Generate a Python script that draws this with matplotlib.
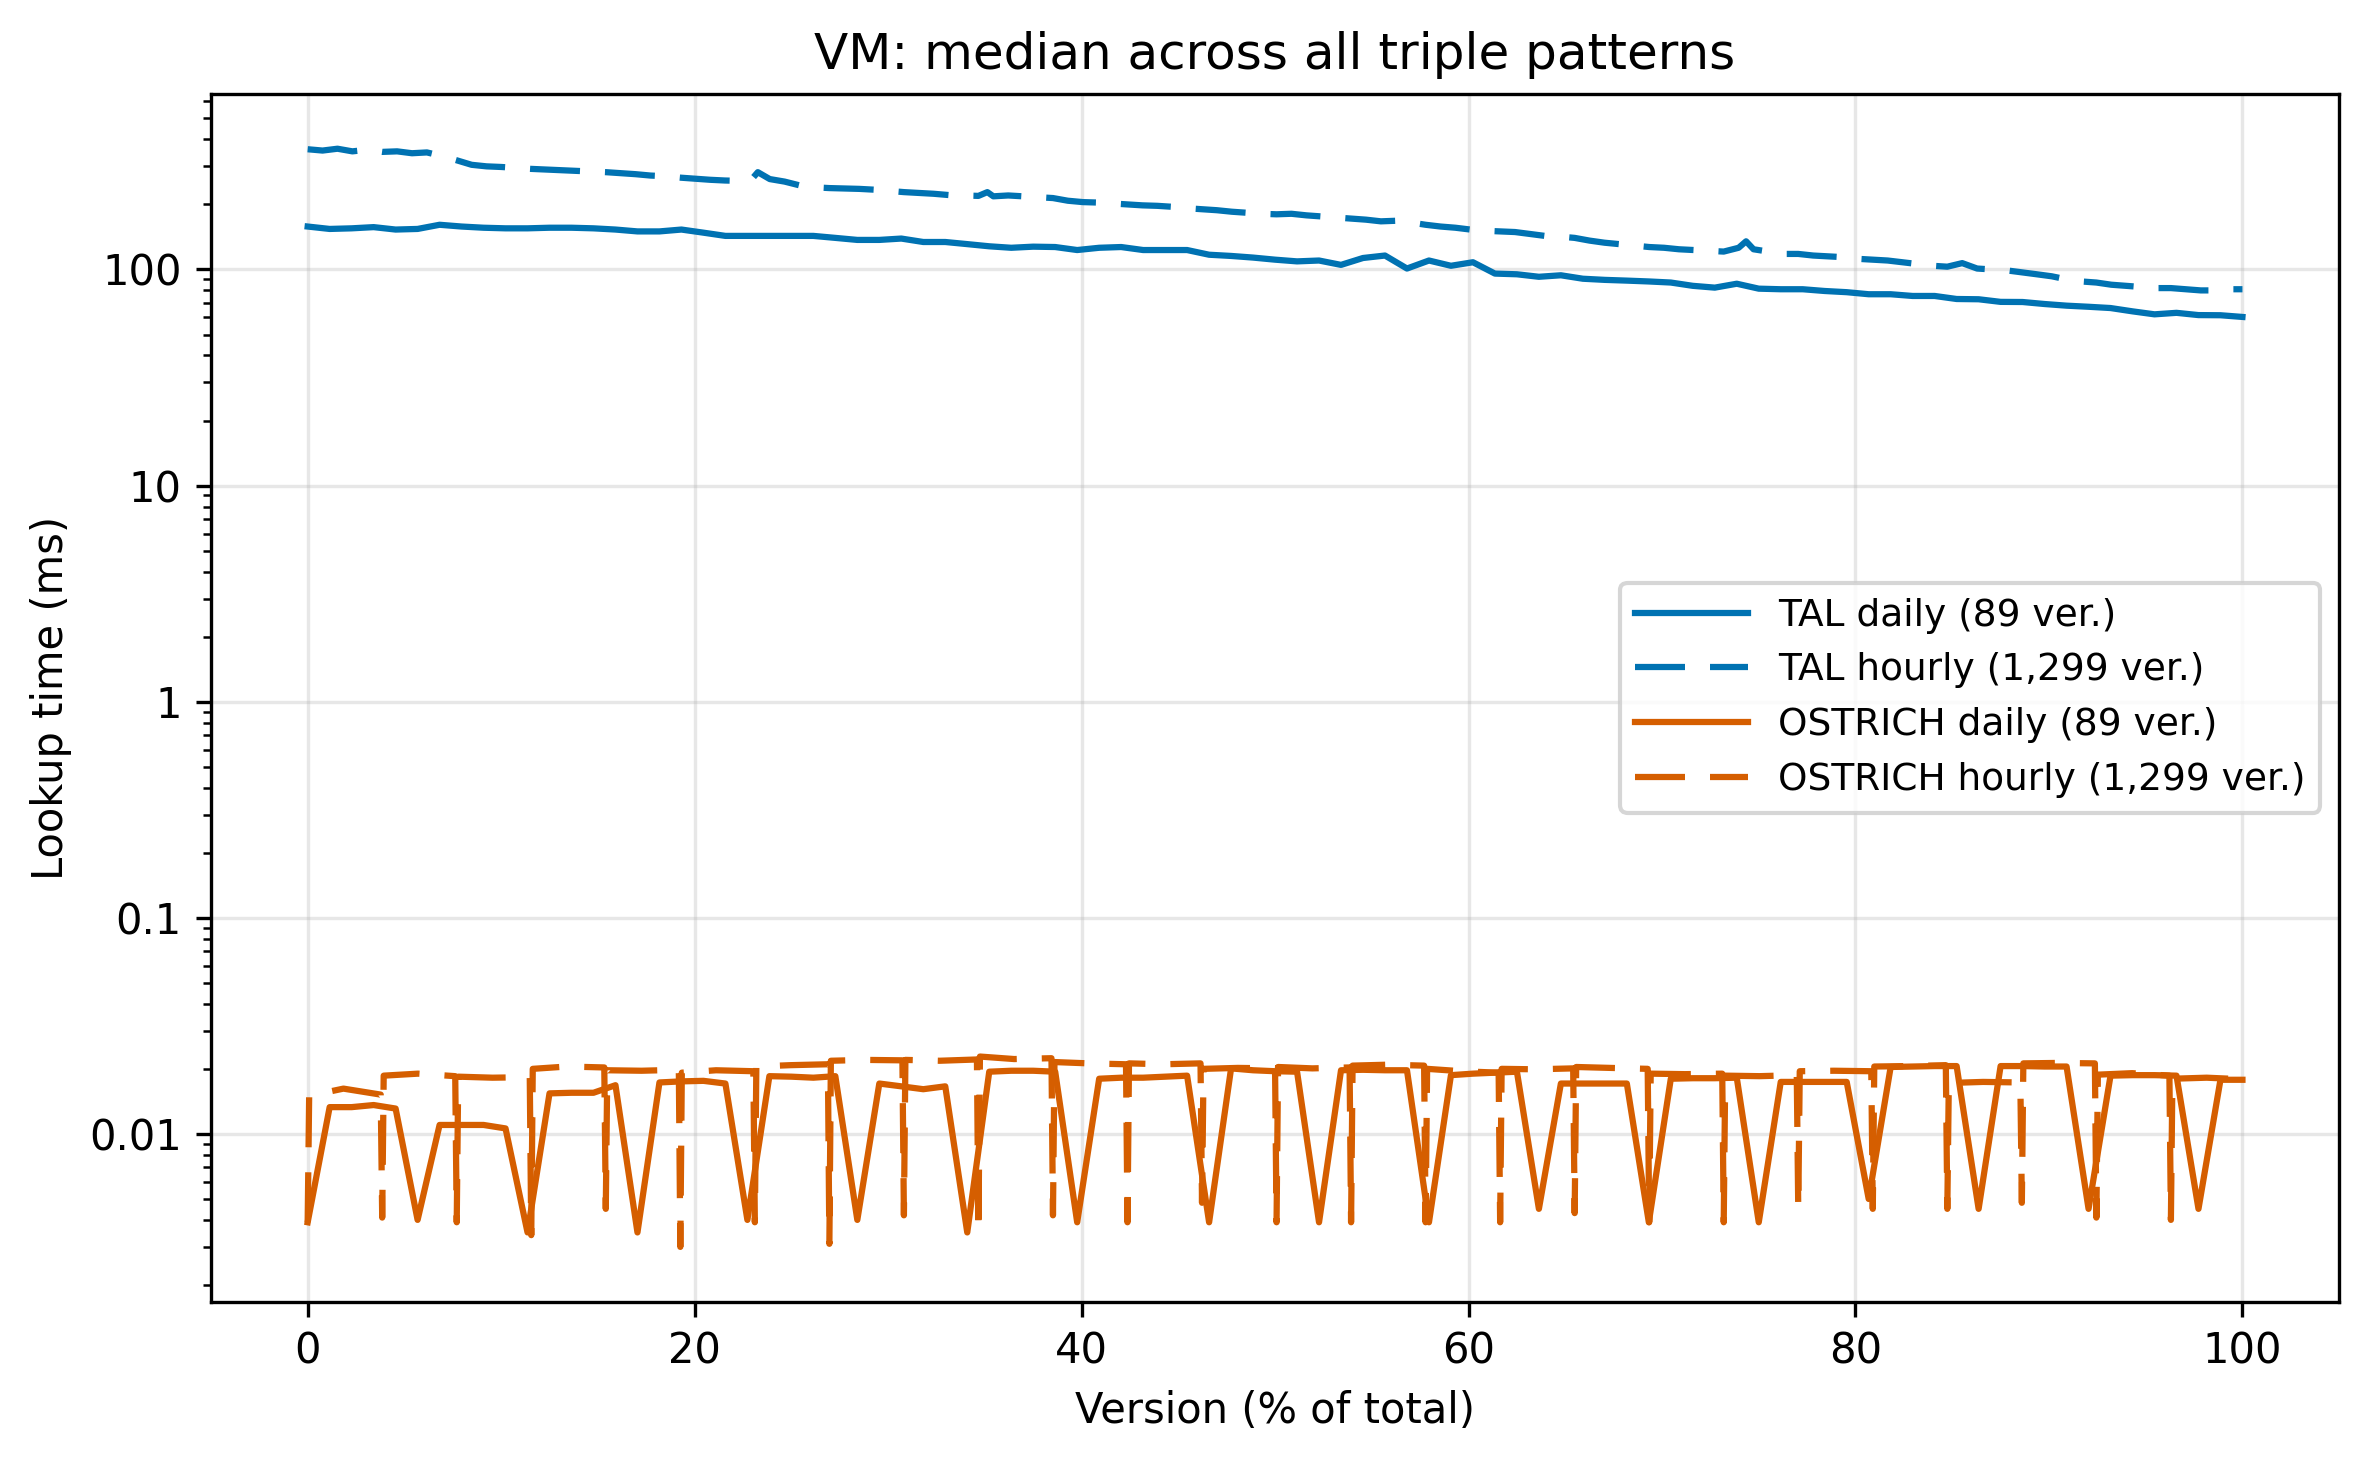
import matplotlib
matplotlib.use('Agg')
import matplotlib.pyplot as plt
from matplotlib.ticker import FuncFormatter, LogLocator

# colours (Okabe-Ito blue / vermillion)
tal_color = '#0072B2'
ostrich_color = '#D55E00'

# daily runs: 89 versions spread over 0..100 %
n_daily = 89
tal_daily_ms = [158, 154, 155, 157, 153, 154, 161, 158, 156, 155,
                155, 156, 156, 155, 153, 150, 150, 153, 148, 143,
                143, 143, 143, 143, 140, 137, 137, 139, 134, 134,
                131, 128, 126, 127.5, 127, 123, 126, 127, 123, 123,
                123, 117, 115.5, 113.5, 111, 109, 110, 105, 113, 116,
                101, 110, 104, 108, 95.7, 95, 92.5, 94, 90.6, 89.5,
                88.8, 88, 87, 84, 82.4, 85.9, 81.5, 81, 81, 79.5,
                78.5, 76.8, 76.8, 75.4, 75.4, 73, 72.8, 70.8, 70.7, 69.2,
                68, 67.2, 66.3, 64, 62, 63, 61.5, 61.4, 60.3]

ostrich_daily_ms = [0.0039, 0.0133, 0.0133, 0.0136, 0.0131, 0.0040, 0.0110, 0.0110, 0.0110, 0.0106,
                    0.0035, 0.0154, 0.0155, 0.0155, 0.0168, 0.0035, 0.0173, 0.0175, 0.0176, 0.0171,
                    0.0040, 0.0185, 0.0184, 0.0182, 0.0185, 0.0040, 0.0171, 0.0166, 0.0161, 0.0166,
                    0.0035, 0.0194, 0.0196, 0.0196, 0.0194, 0.0039, 0.0180, 0.0182, 0.0182, 0.0184,
                    0.0186, 0.0039, 0.0201, 0.0197, 0.0195, 0.0194, 0.0039, 0.0197, 0.0198, 0.0197,
                    0.0197, 0.0039, 0.0187, 0.0190, 0.0192, 0.0194, 0.0045, 0.0171, 0.0171, 0.0171,
                    0.0171, 0.0039, 0.0180, 0.0181, 0.0181, 0.0182, 0.0039, 0.0174, 0.0174, 0.0174,
                    0.0174, 0.0050, 0.0204, 0.0205, 0.0206, 0.0206, 0.0045, 0.0206, 0.0206, 0.0205,
                    0.0205, 0.0045, 0.0186, 0.0187, 0.0187, 0.0186, 0.0045, 0.0178, 0.0178]

# hourly runs: 1,299 versions (last index 1298)
n_hourly = 1299

# TAL hourly, read at roughly every 10th version (version index, ms)
tal_hourly_ver = [0, 10, 20, 30, 40, 50, 60, 70, 80, 90,
                  100, 110, 120, 130, 140, 150, 160, 170, 180, 190,
                  200, 210, 220, 230, 240, 250, 260, 270, 280, 290,
                  298, 302, 310, 320, 330, 340, 350, 360, 370, 380,
                  390, 400, 410, 420, 430, 440, 450, 456, 460, 470,
                  480, 490, 500, 510, 520, 530, 540, 550, 560, 570,
                  580, 590, 600, 610, 620, 630, 640, 650, 660, 670,
                  680, 690, 700, 710, 720, 730, 740, 750, 760, 770,
                  780, 790, 800, 810, 820, 830, 840, 850, 860, 870,
                  880, 890, 900, 910, 920, 930, 940, 950, 960, 965,
                  970, 980, 990, 1000, 1010, 1020, 1030, 1040, 1050, 1060,
                  1070, 1080, 1090, 1100, 1110, 1120, 1130, 1140, 1150, 1160,
                  1170, 1180, 1190, 1200, 1210, 1220, 1230, 1240, 1250, 1260,
                  1270, 1280, 1290, 1298]
tal_hourly_ms = [360, 355, 362, 352, 358, 350, 352, 345, 348, 335,
                 320, 305, 300, 298, 295, 292, 290, 288, 286, 284,
                 282, 279, 276, 272, 270, 266, 263, 260, 258, 257,
                 262, 282, 262, 255, 245, 240, 238, 237, 236, 234,
                 231, 228, 226, 224, 221, 220, 219, 228, 218, 220,
                 218, 216, 214, 208, 205, 204, 202, 200, 198, 197,
                 195, 192, 190, 188, 185, 183, 181, 180, 181, 178,
                 176, 174, 172, 170, 167, 168, 165, 161, 158, 156,
                 153, 151, 150, 149, 146, 143, 142, 140, 136, 133,
                 131, 129, 127, 126, 124, 123, 122, 121, 126, 135,
                 124, 121, 118, 118, 116, 115, 114, 112, 111, 110,
                 108, 106, 104, 103, 107, 101, 100, 99, 97, 95,
                 93, 90, 88, 87, 85, 84, 83, 82, 82, 81,
                 80, 80, 81, 81]

# OSTRICH hourly: a one-version dip every 50 versions, flat-ish level between
ostrich_dip_ver = [0, 50, 100, 150, 200, 250, 300, 350, 400, 450,
                   500, 550, 600, 650, 700, 750, 800, 850, 900, 950,
                   1000, 1050, 1100, 1150, 1200, 1250]
ostrich_dip_ms = [0.0039, 0.0041, 0.0039, 0.0034, 0.0045, 0.0030, 0.0039, 0.0031, 0.0042, 0.0035,
                  0.0042, 0.0039, 0.0048, 0.0039, 0.0039, 0.0039, 0.0039, 0.0043, 0.0039, 0.0039,
                  0.0045, 0.0045, 0.0045, 0.0048, 0.0041, 0.0040]
# level after each dip: start, middle, end of the 50-version block
ostrich_level_ms = [(0.0150, 0.0162, 0.0152), (0.0186, 0.0190, 0.0185), (0.0184, 0.0182, 0.0183),
                    (0.0200, 0.0205, 0.0203), (0.0197, 0.0196, 0.0198), (0.0192, 0.0197, 0.0195),
                    (0.0205, 0.0208, 0.0210), (0.0218, 0.0220, 0.0219), (0.0220, 0.0218, 0.0221),
                    (0.0228, 0.0222, 0.0224), (0.0215, 0.0212, 0.0210), (0.0212, 0.0210, 0.0212),
                    (0.0200, 0.0202, 0.0201), (0.0204, 0.0201, 0.0203), (0.0207, 0.0209, 0.0207),
                    (0.0200, 0.0195, 0.0192), (0.0200, 0.0199, 0.0201), (0.0204, 0.0202, 0.0200),
                    (0.0190, 0.0189, 0.0190), (0.0186, 0.0185, 0.0187), (0.0195, 0.0196, 0.0195),
                    (0.0205, 0.0206, 0.0208), (0.0172, 0.0174, 0.0173), (0.0212, 0.0213, 0.0212),
                    (0.0188, 0.0191, 0.0186), (0.0180, 0.0182, 0.0179)]

# build x positions as % of total versions
daily_x = [i / (n_daily - 1) * 100 for i in range(n_daily)]
tal_hourly_x = [v / (n_hourly - 1) * 100 for v in tal_hourly_ver]

ostrich_hourly_x = []
ostrich_hourly_ms = []
for k, v in enumerate(ostrich_dip_ver):
    end = ostrich_dip_ver[k + 1] - 1 if k + 1 < len(ostrich_dip_ver) else n_hourly - 1
    start_lv, mid_lv, end_lv = ostrich_level_ms[k]
    for ver, ms in [(v, ostrich_dip_ms[k]), (v + 1, start_lv), ((v + end) // 2, mid_lv), (end, end_lv)]:
        ostrich_hourly_x.append(ver / (n_hourly - 1) * 100)
        ostrich_hourly_ms.append(ms)

fig, ax = plt.subplots(figsize=(7.9, 4.8867), dpi=300)
fig.subplots_adjust(left=0.089, right=0.987, bottom=0.112, top=0.936)

dash = (0, (8, 4))
ax.plot(daily_x, tal_daily_ms, color=tal_color, linewidth=1.5, label='TAL daily (89 ver.)')
ax.plot(tal_hourly_x, tal_hourly_ms, color=tal_color, linewidth=1.5, linestyle=dash,
        label='TAL hourly (1,299 ver.)')
ax.plot(daily_x, ostrich_daily_ms, color=ostrich_color, linewidth=1.5, label='OSTRICH daily (89 ver.)')
ax.plot(ostrich_hourly_x, ostrich_hourly_ms, color=ostrich_color, linewidth=1.5, linestyle=dash,
        label='OSTRICH hourly (1,299 ver.)')

ax.set_yscale('log')
ax.yaxis.set_major_locator(LogLocator(base=10))
ax.yaxis.set_major_formatter(FuncFormatter(lambda y, pos: '{:g}'.format(y)))

ax.set_title('VM: median across all triple patterns', fontsize=12)
ax.set_xlabel('Version (% of total)', fontsize=10)
ax.set_ylabel('Lookup time (ms)', fontsize=10)
ax.tick_params(axis='both', labelsize=10)
ax.grid(True, which='major', alpha=0.3)
ax.legend(loc='center right', fontsize=9, handlelength=3)

plt.savefig('out.png', dpi=300)
